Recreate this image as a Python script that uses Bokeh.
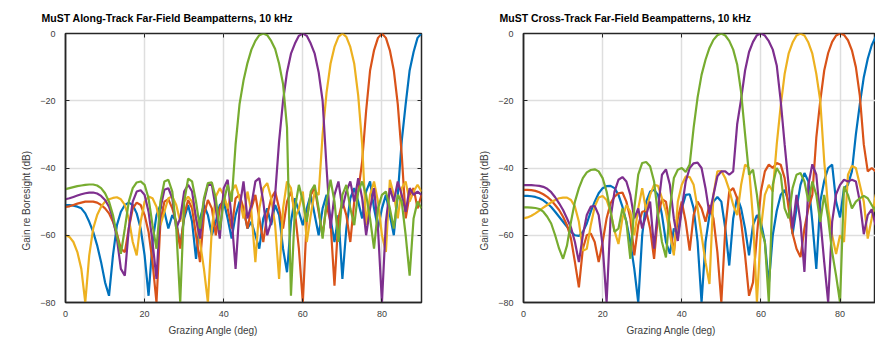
from bokeh.plotting import figure
from bokeh.models import Title, LinearAxis, Range1d, FixedTicker
from bokeh.layouts import row
from bokeh.embed import file_html
from bokeh.resources import INLINE

angle = list(range(91))

along_titles = "MuST Along-Track Far-Field Beampatterns, 10 kHz"
cross_titles = "MuST Cross-Track Far-Field Beampatterns, 10 kHz"
x_label = "Grazing Angle (deg)"
y_label = "Gain re Boresight (dB)"
x_ticks = [0, 20, 40, 60, 80]
y_ticks = [0, -20, -40, -60, -80]

along_blue = [-51, -51, -51.2, -51.5, -52, -53.5, -56, -59, -63, -68,
              -74, -78, -66, -57, -53, -51, -50.3, -51, -53.5, -58,
              -66, -78, -62, -54, -51, -53, -58, -54, -56, -63,
              -55, -51, -56, -67, -55, -51, -54, -60, -56, -51,
              -50, -55, -61, -54, -50, -52, -58, -56, -60, -64,
              -55, -52, -57, -51, -54, -64, -71, -56, -49, -53,
              -57, -52, -48, -54, -60, -52, -48, -55, -62, -54,
              -73, -58, -49, -46, -50, -55, -47, -44, -52, -58,
              -52, -48, -54, -60, -48, -32, -21, -11, -5.5, -1.3, 0]
along_orange = [-51.6, -51.4, -51, -50.6, -50.3, -50, -50, -50, -50.3, -51,
                -52, -53.5, -56, -59.5, -64, -65, -58, -52, -50.3, -51,
                -54, -59, -68, -80, -56, -50, -49.3, -52, -56, -64,
                -54, -49.5, -52, -60, -68, -54, -49.5, -52, -60, -52,
                -49, -52, -58, -49, -48, -52, -58, -52, -48, -55,
                -62, -54, -49, -47, -52, -58, -50, -47, -53, -64,
                -80, -55, -48, -46, -53, -60, -51, -56, -75, -55,
                -50, -54, -62, -50, -47, -38, -23, -11, -5, -1.3,
                0, -1.3, -5, -11, -21, -36, -55, -48, -46, -52, -48]
along_yellow = [-60, -60.5, -62, -65, -70, -80, -66, -58, -54, -51.5,
                -50, -49.3, -48.9, -48.7, -49.3, -51, -55, -62, -66, -56,
                -50, -48.5, -49, -51.5, -57, -53, -49, -48.5, -51, -56,
                -50, -48.5, -50, -55, -62, -70, -80, -58, -48.5, -46,
                -48, -52, -47, -45, -49, -55, -47, -53, -68, -52,
                -46, -44.5, -49, -57, -73, -52, -44, -46, -55, -52,
                -47, -62, -54, -47, -48, -30, -17.5, -9, -4, -1,
                0, -1, -4, -9, -18.5, -33, -57, -48, -44, -50,
                -60, -65, -43.5, -48, -55, -46, -44, -50, -47, -45, -47]
along_purple = [-49.3, -49, -48.6, -48.2, -47.8, -47.5, -47.3, -47.3, -47.6, -48.3,
                -49.5, -51.5, -55, -61, -70, -72, -58, -50, -47, -46.6,
                -48, -53, -62, -73, -52, -46.5, -46, -49, -58, -55,
                -47, -45, -47, -55, -61, -50, -45, -45, -52, -61,
                -46, -43.5, -55, -70, -52, -44, -55, -51, -44, -43,
                -50, -60, -56, -48, -32, -20, -11.5, -6, -3, -0.7,
                0, -0.7, -3, -6, -11.5, -20, -40, -58, -48, -44,
                -52, -47, -44, -50, -43, -49, -60, -52, -46, -58,
                -80, -56, -46, -50, -44, -48, -53, -46, -48, -47, -48]
along_green = [-46.3, -46, -45.7, -45.4, -45.2, -45, -44.9, -44.9, -45.2, -46,
               -47.5, -50, -54, -60, -65.5, -58, -50, -46, -44.3, -44,
               -45, -49, -57, -64, -50, -44, -43.5, -47, -58, -80,
               -50, -43.2, -44, -50, -58, -49, -44.5, -44.3, -49, -58.5,
               -50, -45, -50, -33, -21, -14, -8.8, -4.8, -2.2, -0.5,
               0, -0.5, -2.2, -4.6, -9, -15, -28, -78, -52, -45,
               -50, -56, -47, -45, -52, -61, -50, -43.5, -50, -62,
               -48, -45, -52, -57, -47, -44, -48, -55, -64, -52,
               -48, -47, -52, -58, -48, -50, -60, -72, -55, -50, -52]

cross_blue = [-48.3, -48.3, -48.4, -48.6, -49, -49.6, -50.5, -51.6, -53, -54.5,
              -56, -57.5, -59, -60, -60.2, -59, -56.5, -53, -50, -47.5,
              -46, -45.4, -45.3, -46, -48, -51.5, -56, -62, -70, -80,
              -60, -50, -47, -46.5, -48, -54, -62, -65.5, -58, -60,
              -52, -48, -47.8, -52, -62, -80, -62, -54, -50, -48.6,
              -50, -58, -69, -55, -48.6, -52, -58, -66, -57, -54,
              -56, -62, -74.5, -60, -52.8, -48, -46.5, -50, -59.7, -52,
              -45, -41.5, -44, -56, -70, -50, -43.8, -40, -39, -50,
              -54.7, -46, -45, -41, -30, -21, -13, -7.5, -3.5, -1, 0]
cross_orange = [-46.5, -46.5, -46.6, -46.8, -47.2, -47.8, -48.6, -49.6, -51, -52.5,
                -54.5, -57, -61, -68, -75.5, -64, -60, -59.5, -62, -68,
                -62, -55, -50.5, -48.5, -47.5, -47.3, -50, -55, -66, -57,
                -53, -52.7, -58, -67, -54, -49.3, -50, -57, -65, -55,
                -50, -56, -64.6, -54, -50, -52, -56, -51, -55, -65,
                -80, -58, -47, -46, -49, -56, -66, -78, -74, -60,
                -47, -41, -39, -40, -38.5, -39, -43, -52, -59.5, -64,
                -66.5, -58, -52, -48, -31, -20, -11, -5.8, -2.5, -0.6,
                0, -0.4, -2, -5, -10, -18.5, -33, -41, -40, -41, -42]
cross_yellow = [-55, -54.7, -54.2, -53.5, -52.7, -51.8, -51, -50.2, -49.5, -49,
                -48.8, -48.8, -49.5, -51.5, -56, -64.6, -64, -57, -51.5, -48.8,
                -48.3, -49.5, -53, -58.7, -62.6, -55, -51, -53, -60, -52,
                -46, -52.7, -48, -45, -45.3, -49, -53, -59.6, -66, -50,
                -45, -42.5, -42.7, -45, -52, -60, -68, -74.5, -48, -41,
                -40.9, -43, -46.5, -51, -54, -45, -39, -40, -55, -80,
                -58, -48, -45, -47, -33, -21.5, -12, -6, -2.7, -0.6,
                0, -0.6, -2.7, -6, -12, -20, -38, -52, -60, -65.6,
                -60, -62, -42, -39.4, -40, -45, -50, -61, -55, -48, -47]
cross_purple = [-45.1, -45.1, -45.1, -45.2, -45.3, -45.6, -46.2, -47.2, -48.7, -50.5,
                -52.5, -55, -57.7, -62, -68, -60, -54, -51.5, -51.3, -54,
                -63, -80, -55, -47, -43.5, -42.7, -44, -48, -55, -52,
                -58, -54, -50, -64, -52, -42, -40.4, -45, -55, -61.7,
                -52, -44, -40, -38.6, -38.4, -40, -46, -53.7, -48, -42.5,
                -41, -41, -42, -41, -27, -19.5, -11, -5.5, -2.5, -0.5,
                0, -0.6, -2.3, -4.8, -9.5, -20, -33, -45, -58, -48,
                -56, -70.9, -45, -38.9, -42, -55, -68, -80, -56, -47.8,
                -45, -43.5, -44, -43.5, -44, -50, -59.7, -54, -52.3, -57, -55]
cross_green = [-51.7, -51.7, -51.8, -51.9, -52.2, -53, -54.5, -56.5, -60, -64,
               -67, -63, -56, -50, -46, -43, -41.3, -40.6, -40.4, -41,
               -43, -47, -53, -59, -58, -52, -56, -67, -52, -42,
               -38.5, -38.2, -39.5, -44, -54, -62, -66.6, -52, -43, -40.5,
               -40, -41.2, -39, -28, -19, -12.3, -7.8, -4.3, -1.9, -0.5,
               0, -0.6, -2.2, -4.8, -9.2, -17.5, -30, -42, -40.5, -48,
               -58, -62, -80, -45, -40, -42, -52, -55, -46, -42,
               -41.5, -44, -50, -44, -48, -56, -48, -55, -65, -72,
               -80, -45.5, -48, -52, -50, -49, -48.3, -49, -51, -53, -52]

colors = ["#0072BD", "#D95319", "#EDB120", "#7E2F8E", "#77AC30"]
FONT = "Liberation Sans"
AX = "#262626"


def make_plot(title, series, width, border_left, border_right, x_end, right_axis):
    p = figure(width=width, height=340, output_backend="svg", toolbar_location=None,
               x_range=Range1d(0, x_end), y_range=Range1d(-80, 0),
               min_border_left=border_left, min_border_right=border_right,
               min_border_top=32, min_border_bottom=38)
    p.background_fill_color = "white"
    p.border_fill_color = "white"
    p.outline_line_color = AX
    p.outline_line_width = 1.5
    for s, c in zip(series, colors):
        p.line(angle, s, line_color=c, line_width=2.2)
    p.xaxis.ticker = FixedTicker(ticks=x_ticks)
    p.yaxis.ticker = FixedTicker(ticks=y_ticks)
    for ax in p.xaxis + p.yaxis:
        ax.axis_line_color = AX
        ax.axis_line_width = 1.5
        ax.major_tick_line_color = AX
        ax.major_tick_in = 4
        ax.major_tick_out = 0
        ax.minor_tick_line_color = None
        ax.major_label_text_font = FONT
        ax.major_label_text_font_size = "9px"
        ax.major_label_text_color = "#404040"
    p.xaxis.major_label_standoff = 8
    p.yaxis.major_label_standoff = 10
    p.xgrid.ticker = FixedTicker(ticks=x_ticks)
    p.ygrid.ticker = FixedTicker(ticks=y_ticks)
    for g in (p.xgrid[0], p.ygrid[0]):
        g.grid_line_color = "#dedede"
        g.grid_line_width = 1.5
    top = LinearAxis(ticker=FixedTicker(ticks=x_ticks),
                     major_label_overrides={t: "" for t in x_ticks})
    extra = [("above", top)]
    if right_axis:
        extra.append(("right", LinearAxis(ticker=FixedTicker(ticks=y_ticks),
                                          major_label_overrides={t: "" for t in y_ticks})))
    for side, ax in extra:
        ax.axis_line_color = None
        ax.major_tick_line_color = AX
        ax.major_tick_in = 4
        ax.major_tick_out = 0
        ax.minor_tick_line_color = None
        ax.major_label_standoff = 0
        p.add_layout(ax, side)
    p.add_layout(Title(text=title, text_font=FONT, text_font_style="bold",
                       text_font_size="10.5px", text_color="black",
                       align="left", offset=-24, standoff=19), "above")
    p.add_layout(Title(text=x_label, text_font=FONT, text_font_style="normal",
                       text_font_size="10px", text_color="#404040",
                       align="left", offset=103, standoff=7), "below")
    p.add_layout(Title(text=y_label, text_font=FONT, text_font_style="normal",
                       text_font_size="10px", text_color="#404040",
                       align="left", offset=52, standoff=11), "left")
    return p


left = make_plot(along_titles,
                 [along_blue, along_orange, along_yellow, along_purple, along_green],
                 440, 65, 19, 90, True)
right = make_plot(cross_titles,
                  [cross_blue, cross_orange, cross_yellow, cross_purple, cross_green],
                  435, 83, 0, 88.96, False)

layout = row(left, right)
open("out.html", "w").write(file_html(layout, INLINE))
